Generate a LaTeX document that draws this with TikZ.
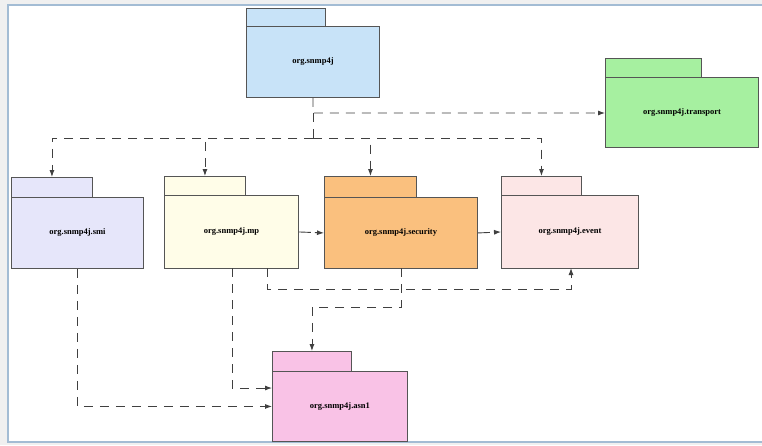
\documentclass[tikz,border=0pt]{standalone}
\usepackage{fontspec}
\setmainfont{Liberation Serif}
\usetikzlibrary{arrows.meta}
\definecolor{frameblue}{HTML}{A3BCD4}
\definecolor{cRoot}{HTML}{C8E3F8}
\definecolor{cTrans}{HTML}{A6F0A0}
\definecolor{cSmi}{HTML}{E6E6FA}
\definecolor{cMp}{HTML}{FFFDE8}
\definecolor{cSec}{HTML}{FAC07E}
\definecolor{cEvt}{HTML}{FCE6E6}
\definecolor{cAsn}{HTML}{F9C2E6}
\definecolor{edgecol}{HTML}{555555}
\begin{document}
\begin{tikzpicture}[x=1pt,y=-1pt,
  pkgbody/.style={draw=edgecol, line width=0.9pt, rectangle, inner sep=0pt, anchor=north west,
    font=\fontsize{8.5}{9}\selectfont\bfseries},
  pkgtab/.style={draw=edgecol, line width=0.9pt, rectangle, inner sep=0pt, anchor=north west},
  dep/.style={draw=black!75, line width=0.9pt, dash pattern=on 9pt off 7pt},
  deparrow/.style={dep, -{Latex[length=7pt,width=5pt]}},
  shortarrow/.style={draw=black!75, line width=0.9pt, dash pattern=on 12pt off 4pt, -{Latex[length=7pt,width=5pt]}}
]
\useasboundingbox (0,0) rectangle (762,445);
\fill[black!6] (0,0) rectangle (762,445);
\fill[white] (8,5) rectangle (762,442);
\draw[frameblue, line width=1.2pt] (762,5) -- (8,5) -- (8,442) -- (762,442);

% packages
\node[pkgtab, fill=cRoot, minimum width=79pt, minimum height=19pt] (roottab) at (246,8) {};
\node[pkgbody, fill=cRoot, minimum width=133pt, minimum height=71pt] (root) at (246,26) {org.snmp4j};

\node[pkgtab, fill=cTrans, minimum width=96pt, minimum height=20pt] (transtab) at (605,58) {};
\node[pkgbody, fill=cTrans, minimum width=153pt, minimum height=70pt] (trans) at (605,77) {org.snmp4j.transport};

\node[pkgtab, fill=cSmi, minimum width=81pt, minimum height=20pt] (smitab) at (11,177) {};
\node[pkgbody, fill=cSmi, minimum width=132pt, minimum height=71pt] (smi) at (11,197) {org.snmp4j.smi};

\node[pkgtab, fill=cMp, minimum width=81pt, minimum height=20pt] (mptab) at (164,176) {};
\node[pkgbody, fill=cMp, minimum width=134pt, minimum height=73pt] (mp) at (164,195) {org.snmp4j.mp};

\node[pkgtab, fill=cSec, minimum width=92pt, minimum height=21pt] (sectab) at (324,176) {};
\node[pkgbody, fill=cSec, minimum width=153pt, minimum height=71pt] (sec) at (324,197) {org.snmp4j.security};

\node[pkgtab, fill=cEvt, minimum width=80pt, minimum height=20pt] (evttab) at (501,176) {};
\node[pkgbody, fill=cEvt, minimum width=137pt, minimum height=73pt] (evt) at (501,195) {org.snmp4j.event};

\node[pkgtab, fill=cAsn, minimum width=79pt, minimum height=21pt] (asntab) at (272,351) {};
\node[pkgbody, fill=cAsn, minimum width=135pt, minimum height=70pt] (asn) at (272,371) {org.snmp4j.asn1};

% junction coordinates
\coordinate (jt) at (313,113);
\coordinate (jc) at (313,138);

% dependencies
\draw[deparrow] (root.south) -- (jt) -- (trans.west |- jt);
\draw[dep] (jt) -- (jc);
\draw[deparrow] (jc) -| (smitab.north);
\draw[deparrow] (jc) -| (mptab.north);
\draw[deparrow] (jc) -| (sectab.north);
\draw[deparrow] (jc) -| (evttab.north);

\draw[shortarrow] (mp.east) -- (sec.west);
\draw[shortarrow] (sec.east) -- (evt.west);

\coordinate (mpa) at (267,268);
\coordinate (mpb) at (232,268);
\coordinate (eva) at (571,268);
\coordinate (sea) at (401,268);
\draw[deparrow] (mpa) -- (267,289) -| (eva);
\draw[deparrow] (sea) -- (401,307) -| (asntab.north);
\draw[deparrow] (mpb) -- (232,388) -- (asn.west |- 0,388);
\draw[deparrow] (smi.south) |- (asn.west);
\end{tikzpicture}
\end{document}
